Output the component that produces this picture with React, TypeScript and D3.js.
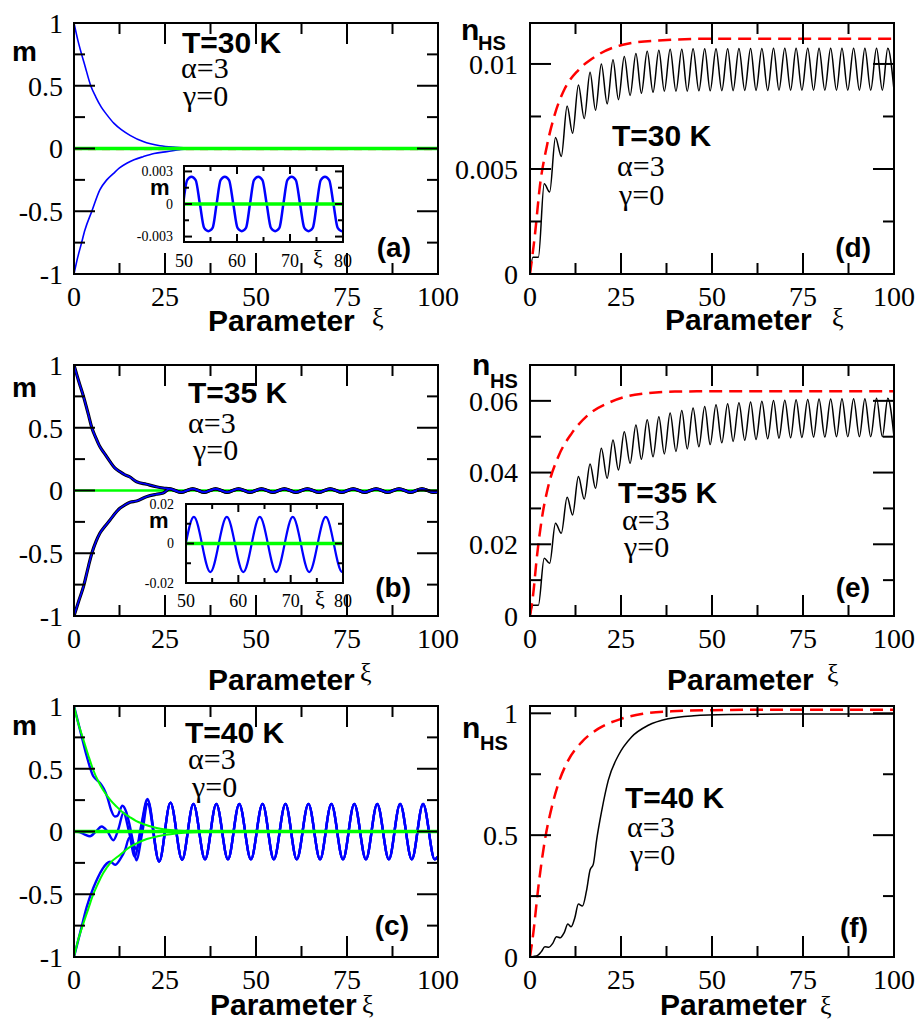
import { useEffect, useRef } from 'react';
import * as d3 from 'd3';

// ---------- values ----------
const xiMajor = [0, 25, 50, 75, 100];
const xiMinor = [12.5, 37.5, 62.5, 87.5];
const mMajor = [-1, -0.5, 0, 0.5, 1];
const mMinor = [-0.75, -0.25, 0.25, 0.75];
const zeroXi = [0, 100];
const zeroM = [0, 0];

// (a) T=30 K
const aUpXi = [0, 1, 2, 3, 4.6, 6, 7.5, 9, 11, 13, 15.4, 19, 23.6, 28, 34, 40, 100];
const aUpM = [1, 0.87, 0.76, 0.66, 0.5, 0.41, 0.33, 0.27, 0.2, 0.15, 0.105, 0.055, 0.022, 0.01, 0.003, 0, 0];
const aLoXi = [0, 1, 2, 3, 4.9, 7.1, 9, 10.8, 12.5, 14.5, 16.5, 19, 22, 25.5, 31, 38, 100];
const aLoM = [-1, -0.87, -0.76, -0.65, -0.5, -0.33, -0.25, -0.2, -0.155, -0.118, -0.09, -0.065, -0.04, -0.025, -0.004, 0, 0];
const aRedM = [-0.006, -0.006];
const aOscXi = [49.85, 50.6, 51.4, 52.2, 53.0, 53.8, 54.6, 55.4, 56.15, 56.9, 57.7, 58.5, 59.3, 60.1, 60.9, 61.7,
  62.45, 63.2, 64.0, 64.8, 65.6, 66.4, 67.2, 68.0, 68.75, 69.5, 70.3, 71.1, 71.9, 72.7, 73.5, 74.3,
  75.05, 75.8, 76.6, 77.4, 78.2, 79.0, 79.8, 80.6];
const aOscM = [0, 0.0022, 0.0025, 0.0022, 0, -0.0022, -0.0025, -0.0022, 0, 0.0022, 0.0025, 0.0022, 0, -0.0022, -0.0025, -0.0022,
  0, 0.0022, 0.0025, 0.0022, 0, -0.0022, -0.0025, -0.0022, 0, 0.0022, 0.0025, 0.0022, 0, -0.0022, -0.0025, -0.0022,
  0, 0.0022, 0.0025, 0.0022, 0, -0.0022, -0.0025, -0.0022];

// (b) T=35 K
const bUpXi = [0, 1.3, 2.6, 4.0, 4.9, 6.0, 7.1, 8.5, 9.9, 11.2, 12.6, 14.0, 15.2, 17.2, 19.9, 22.6, 24.5];
const bUpM = [1, 0.87, 0.75, 0.6, 0.5, 0.42, 0.35, 0.29, 0.23, 0.18, 0.15, 0.125, 0.11, 0.07, 0.05, 0.03, 0.02];
const bLoXi = [0, 1.3, 2.6, 4.0, 4.9, 6.0, 7.1, 8.5, 9.9, 11.2, 12.6, 14.0, 15.4, 17.2, 19.9, 22.6, 24.5];
const bLoM = [-1, -0.88, -0.766, -0.6, -0.5, -0.41, -0.341, -0.285, -0.235, -0.185, -0.142, -0.115, -0.094, -0.084, -0.049, -0.03, -0.02];
const bOscXi = [26.3, 29.45, 32.6, 35.75, 38.9, 42.05, 45.2, 48.35, 51.5, 54.65, 57.8, 60.95, 64.1, 67.25,
  70.4, 73.55, 76.7, 79.85, 83.0, 86.15, 89.3, 92.45, 95.6, 98.75, 100];
const bOscM = [0.0135, -0.0145, 0.0135, -0.0145, 0.0135, -0.0145, 0.0135, -0.0145, 0.0135, -0.0145, 0.0135, -0.0145,
  0.0135, -0.0145, 0.0135, -0.0145, 0.0135, -0.0145, 0.0135, -0.0145, 0.0135, -0.0145, 0.0135, -0.0145, -0.012];

// (c) T=40 K
const cGreenUpXi = [0, 1, 2.6, 4, 5.3, 6.5, 8, 10, 11.7, 13.5, 15.4, 17, 19, 22.7, 28, 35, 100];
const cGreenUpM = [1, 0.88, 0.73, 0.6, 0.49, 0.41, 0.33, 0.25, 0.198, 0.15, 0.113, 0.085, 0.06, 0.028, 0.008, 0.001, 0];
const cGreenLoXi = [0, 1, 2.6, 4, 5.3, 6.5, 8, 10, 12.6, 15, 17.2, 20, 23, 28, 35, 45, 100];
const cGreenLoM = [-1, -0.88, -0.73, -0.61, -0.5, -0.42, -0.333, -0.25, -0.187, -0.13, -0.094, -0.06, -0.038, -0.016, -0.004, 0, 0];
const cBlueUpXi = [0, 2, 3.5, 5.3, 6.3, 7.2, 8.2, 9.2, 10.2, 11.2, 11.9, 13.3, 14.3, 15.3, 16.4, 17.2, 18.2, 20.2];
const cBlueUpM = [1, 0.77, 0.6, 0.44, 0.41, 0.385, 0.34, 0.27, 0.17, 0.12, 0.125, 0.205, 0.16, 0.05, -0.1, -0.14, -0.02, 0.25];
const cBlueMidXi = [0, 1.5, 3, 4.4, 6, 7.6, 9.2, 10.8, 12.2, 13.6, 15.1, 16.7, 18.4, 20.2];
const cBlueMidM = [0, -0.005, -0.025, -0.038, 0, 0.04, 0, -0.07, 0.02, 0.15, 0, -0.2, 0.04, 0.26];
const cBlueLoXi = [0, 2, 3.5, 5.3, 6.5, 7.8, 9, 9.9, 11.3, 12.7, 14, 15.2, 16.2, 17.1, 18.8, 20.2];
const cBlueLoM = [-1, -0.77, -0.6, -0.45, -0.37, -0.3, -0.255, -0.24, -0.265, -0.22, -0.15, -0.05, -0.1, -0.23, 0, 0.22];
const cOscXi = [23.4, 26.5, 29.7, 32.8, 36.0, 39.1, 42.3, 45.4, 48.6, 51.8, 54.9, 58.1, 61.2, 64.4, 67.6,
  70.7, 73.9, 77.0, 80.2, 83.3, 86.5, 89.6, 92.8, 95.9, 99.1, 100];
const cOscM = [-0.24, 0.23, -0.225, 0.22, -0.222, 0.22, -0.222, 0.22, -0.222, 0.22, -0.222, 0.22, -0.222, 0.22,
  -0.222, 0.22, -0.222, 0.22, -0.222, 0.22, -0.222, 0.22, -0.222, 0.22, -0.222, -0.2];

// (d), (e) share the oscillation timing
const nStartXi = [0, 0.8, 2.3];
const nPeakXi = [3.9, 7.0, 10.2, 13.3, 16.5, 19.6, 22.8, 25.9, 29.1, 32.2, 35.4, 38.5, 41.7, 44.8, 48.0, 51.1,
  54.3, 57.4, 60.6, 63.7, 66.9, 70.0, 73.1, 76.3, 79.4, 82.6, 85.7, 88.9, 92.0, 95.2, 98.3];
const nTroughXi = [5.4, 8.6, 11.7, 14.9, 18.0, 21.2, 24.3, 27.5, 30.6, 33.8, 36.9, 40.1, 43.2, 46.4, 49.5, 52.7,
  55.8, 59.0, 62.1, 65.3, 68.4, 71.6, 74.7, 77.9, 81.0, 84.2, 87.3, 90.5, 93.6, 96.8, 100];

// (d) T=30 K
const dStart = [0, 0.0008, 0.0008];
const dPeak = [0.0043, 0.0065, 0.008, 0.009, 0.0096, 0.01, 0.0102, 0.01035, 0.0105, 0.0106, 0.01065, 0.0107, 0.0107,
  0.01072, 0.01072, 0.01073, 0.01073, 0.01074, 0.01074, 0.01074, 0.01075, 0.01075, 0.01075, 0.01075, 0.01075,
  0.01075, 0.01075, 0.01075, 0.01075, 0.01075, 0.01075];
const dTrough = [0.0039, 0.0056, 0.0067, 0.0074, 0.0078, 0.0081, 0.0083, 0.0085, 0.0086, 0.00865, 0.0087, 0.0087,
  0.0087, 0.00872, 0.00872, 0.00873, 0.00873, 0.00874, 0.00874, 0.00874, 0.00875, 0.00875, 0.00875, 0.00875,
  0.00875, 0.00875, 0.00875, 0.00875, 0.00875, 0.00875, 0.00875];
const dRedXi = [0, 1.4, 2.7, 4.6, 6.9, 9.6, 13.3, 17.9, 25.2, 35.3, 50, 100];
const dRedN = [0, 0.00194, 0.00416, 0.00606, 0.00765, 0.00884, 0.00971, 0.01035, 0.0109, 0.01112, 0.0112, 0.0112];

// (e) T=35 K
const eStart = [0, 0.003, 0.003];
const ePeak = [0.0161, 0.0259, 0.0331, 0.0389, 0.0424, 0.0468, 0.0491, 0.0514, 0.0533, 0.0547, 0.0556, 0.0566,
  0.0573, 0.058, 0.0584, 0.0589, 0.0592, 0.0595, 0.0597, 0.0599, 0.0601, 0.0602, 0.0603, 0.0604, 0.0605, 0.0605,
  0.0606, 0.0606, 0.0606, 0.0607, 0.0607];
const eTrough = [0.0147, 0.0231, 0.0282, 0.0326, 0.0356, 0.0384, 0.0407, 0.0426, 0.0437, 0.0444, 0.0452, 0.0459,
  0.0466, 0.0472, 0.0478, 0.0483, 0.0487, 0.049, 0.0492, 0.0494, 0.0496, 0.0497, 0.0498, 0.0499, 0.0499, 0.05,
  0.05, 0.05, 0.05, 0.05, 0.05];
const eRedXi = [0, 0.9, 1.8, 3.2, 5.0, 7.8, 11.5, 16, 21.5, 28.8, 39.8, 60, 100];
const eRedN = [0, 0.0063, 0.0156, 0.0268, 0.0361, 0.0445, 0.051, 0.0561, 0.0594, 0.0617, 0.0626, 0.0627, 0.0627];

// (f) T=40 K
const fBlackXi = [0, 1, 2.2, 3.1, 4.1, 5.2, 6.2, 7.3, 8.3, 9.4, 10.4, 11.3, 12.3, 13.3, 14.4, 15.5, 16.5, 17.4,
  18.3, 19.7, 21.5, 24.3, 27.9, 32.5, 38, 45, 55, 70, 100];
const fBlackN = [0, 0.002, 0.008, 0.022, 0.042, 0.04, 0.055, 0.083, 0.079, 0.1, 0.135, 0.124, 0.16, 0.217, 0.209,
  0.27, 0.357, 0.381, 0.48, 0.6, 0.725, 0.828, 0.903, 0.951, 0.978, 0.99, 0.995, 0.997, 0.997];
const fRedXi = [0, 0.9, 2.3, 4.1, 6.0, 7.8, 10.5, 14.2, 18.8, 25.2, 31, 38.9, 50, 70, 100];
const fRedN = [0, 0.097, 0.288, 0.48, 0.616, 0.712, 0.807, 0.882, 0.937, 0.978, 0.998, 1.008, 1.013, 1.015, 1.015];

// ---------- drawing helpers ----------
const sans = 'Liberation Sans, Arial, Helvetica, sans-serif';
const serif = 'Liberation Serif, Times New Roman, DejaVu Serif, serif';
const BLUE = '#0000ff';
const GREEN = '#00ff00';
const RED = '#ff0000';

type Pt = [number, number];
const zip = (xs: number[], ys: number[]): Pt[] => xs.map((v, i) => [v, ys[i]] as Pt);
const alternate = (px: number[], pv: number[], tx: number[], tv: number[]): Pt[] =>
  px.flatMap((v, i) => [[v, pv[i]], [tx[i], tv[i]]] as Pt[]);

const makePanel = (svg: any, id: string, box: number[], xDom: number[], yDom: number[], bg = false) => {
  const x = d3.scaleLinear().domain(xDom).range([box[0], box[2]]);
  const y = d3.scaleLinear().domain(yDom).range([box[3], box[1]]);
  svg.append('clipPath').attr('id', id).append('rect')
    .attr('x', box[0]).attr('y', box[1]).attr('width', box[2] - box[0]).attr('height', box[3] - box[1]);
  const g = svg.append('g');
  if (bg) {
    g.append('rect').attr('x', box[0]).attr('y', box[1])
      .attr('width', box[2] - box[0]).attr('height', box[3] - box[1]).attr('fill', '#fff');
  }
  const data = g.append('g').attr('clip-path', `url(#${id})`);
  return { x, y, g, data };
};

const drawLine = (p: any, pts: Pt[], color: string, width: number, dash: string | null = null, opacity = 1) => {
  const gen = d3.line<Pt>().x((d) => p.x(d[0])).y((d) => p.y(d[1])).curve(d3.curveMonotoneX);
  p.data.append('path').attr('d', gen(pts)).attr('fill', 'none').attr('stroke', color)
    .attr('stroke-width', width).attr('stroke-dasharray', dash).attr('stroke-linejoin', 'round')
    .attr('opacity', opacity);
};

const drawAxes = (p: any, xMaj: number[], xMin: number[], yMaj: number[], yMin: number[],
  majLen: number, minLen: number, sw: number) => {
  const [x0, x1] = p.x.range();
  const [yb, yt] = p.y.range();
  const t = p.g.append('g').attr('stroke', '#000').attr('stroke-width', sw);
  const seg = (a: number, b: number, c: number, d: number) =>
    t.append('line').attr('x1', a).attr('y1', b).attr('x2', c).attr('y2', d);
  const xt = (vals: number[], len: number) => vals.forEach((v) => {
    seg(p.x(v), yb, p.x(v), yb - len);
    seg(p.x(v), yt, p.x(v), yt + len);
  });
  const yt2 = (vals: number[], len: number) => vals.forEach((v) => {
    seg(x0, p.y(v), x0 + len, p.y(v));
    seg(x1, p.y(v), x1 - len, p.y(v));
  });
  xt(xMaj, majLen); xt(xMin, minLen); yt2(yMaj, majLen); yt2(yMin, minLen);
  p.g.append('rect').attr('x', x0).attr('y', yt).attr('width', x1 - x0).attr('height', yb - yt)
    .attr('fill', 'none').attr('stroke', '#000').attr('stroke-width', sw);
};

const text = (g: any, x: number, y: number, s: string, size: number, family: string,
  weight = 'normal', anchor = 'start', dy: string | null = null) => {
  g.append('text').attr('x', x).attr('y', y).attr('dy', dy)
    .style('font-family', family).style('font-size', `${size}px`).style('font-weight', weight)
    .attr('text-anchor', anchor).text(s);
};

const xLabels = (p: any, vals: number[], base: number, size: number) =>
  vals.forEach((v) => text(p.g, p.x(v), base, String(v), size, serif, 'normal', 'middle'));
const yLabels = (p: any, vals: number[], right: number, size: number) =>
  vals.forEach((v) => text(p.g, right, p.y(v), String(v), size, serif, 'normal', 'end', '0.35em'));

const notes = (g: any, temp: string, x: number[], base: number[]) => {
  text(g, x[0], base[0], temp, 30, sans, 'bold');
  text(g, x[1], base[1], 'α=3', 30, serif);
  text(g, x[2], base[2], 'γ=0', 30, serif);
};

const render = (el: SVGSVGElement) => {
  const svg = d3.select(el);
  svg.selectAll('*').remove();
  const L = [74, 438];
  const R = [530, 894];
  const rows = [[23, 274], [365, 616], [706, 957]];

  // ---------- (a) ----------
  const pa = makePanel(svg, 'clipA', [L[0], rows[0][0], L[1], rows[0][1]], [0, 100], [-1, 1]);
  drawLine(pa, zip(zeroXi, aRedM), RED, 2, '8 6', 0.5);
  drawLine(pa, zip(zeroXi, zeroM), '#000', 1.5);
  drawLine(pa, zip(aUpXi, aUpM), BLUE, 1.6);
  drawLine(pa, zip(aLoXi, aLoM), BLUE, 1.6);
  drawLine(pa, zip(zeroXi, zeroM), GREEN, 3.5);
  drawAxes(pa, xiMajor, xiMinor, mMajor, mMinor, 21, 11, 2);
  xLabels(pa, xiMajor, rows[0][1] + 32, 28);
  yLabels(pa, mMajor, 63, 28);

  const ia = makePanel(svg, 'clipIA', [184, 166, 343, 242], [50, 80], [-0.0035, 0.0035], true);
  drawLine(ia, zip(aOscXi, aOscM), BLUE, 2.5);
  drawLine(ia, zip(zeroXi, zeroM), GREEN, 3.5);
  drawAxes(ia, [50, 60, 70, 80], [55, 65, 75], [-0.003, 0, 0.003], [-0.0015, 0.0015], 8, 5, 2);
  xLabels(ia, [50, 60, 70, 80], 267, 18);
  yLabels(ia, [-0.003, 0, 0.003], 173, 14);
  text(svg, 313, 265, 'ξ', 22, serif);
  text(svg, 150, 195, 'm', 22, sans, 'bold');

  // ---------- (b) ----------
  const pb = makePanel(svg, 'clipB', [L[0], rows[1][0], L[1], rows[1][1]], [0, 100], [-1, 1]);
  const bUpper = [...zip(bUpXi, bUpM), ...zip(bOscXi, bOscM)];
  const bLower = [...zip(bLoXi, bLoM), ...zip(bOscXi, bOscM)];
  drawLine(pb, zip(zeroXi, zeroM), GREEN, 2.5);
  drawLine(pb, bUpper, '#000', 3.2);
  drawLine(pb, bLower, '#000', 3.2);
  drawLine(pb, bUpper, BLUE, 1.6);
  drawLine(pb, bLower, BLUE, 1.6);
  drawAxes(pb, xiMajor, xiMinor, mMajor, mMinor, 21, 11, 2);
  xLabels(pb, xiMajor, rows[1][1] + 32, 28);
  yLabels(pb, mMajor, 63, 28);

  const ib = makePanel(svg, 'clipIB', [186, 504, 343, 583], [50, 80], [-0.02, 0.02], true);
  drawLine(ib, zip(bOscXi, bOscM), BLUE, 2.2);
  drawLine(ib, zip(zeroXi, zeroM), GREEN, 3.5);
  drawAxes(ib, [50, 60, 70, 80], [55, 65, 75], [-0.02, 0, 0.02], [-0.01, 0.01], 8, 5, 2);
  xLabels(ib, [50, 60, 70, 80], 607, 18);
  yLabels(ib, [-0.02, 0, 0.02], 174, 14);
  text(svg, 315, 606, 'ξ', 22, serif);
  text(svg, 149, 528, 'm', 22, sans, 'bold');

  // ---------- (c) ----------
  const pc = makePanel(svg, 'clipC', [L[0], rows[2][0], L[1], rows[2][1]], [0, 100], [-1, 1]);
  const osc = zip(cOscXi, cOscM);
  drawLine(pc, [...zip(cBlueUpXi, cBlueUpM), ...osc], BLUE, 2.4);
  drawLine(pc, [...zip(cBlueMidXi, cBlueMidM), ...osc], BLUE, 2.4);
  drawLine(pc, [...zip(cBlueLoXi, cBlueLoM), ...osc], BLUE, 2.4);
  drawLine(pc, zip(zeroXi, zeroM), '#000', 1.5);
  drawLine(pc, zip(cGreenUpXi, cGreenUpM), GREEN, 2);
  drawLine(pc, zip(cGreenLoXi, cGreenLoM), GREEN, 2);
  drawLine(pc, zip(zeroXi, zeroM), GREEN, 3.5);
  drawAxes(pc, xiMajor, xiMinor, mMajor, mMinor, 21, 11, 2);
  xLabels(pc, xiMajor, rows[2][1] + 32, 28);
  yLabels(pc, mMajor, 63, 28);

  // ---------- (d) ----------
  const pd = makePanel(svg, 'clipD', [R[0], rows[0][0], R[1], rows[0][1]], [0, 100], [0, 0.01195]);
  drawLine(pd, [...zip(nStartXi, dStart), ...alternate(nPeakXi, dPeak, nTroughXi, dTrough)], '#000', 1.5);
  drawLine(pd, zip(dRedXi, dRedN), RED, 2.5, '13 7');
  drawAxes(pd, xiMajor, xiMinor, [0, 0.005, 0.01], [0.0025, 0.0075], 21, 11, 2);
  xLabels(pd, xiMajor, rows[0][1] + 32, 28);
  yLabels(pd, [0, 0.005, 0.01], 518, 28);

  // ---------- (e) ----------
  const pe = makePanel(svg, 'clipE', [R[0], rows[1][0], R[1], rows[1][1]], [0, 100], [0, 0.07]);
  drawLine(pe, [...zip(nStartXi, eStart), ...alternate(nPeakXi, ePeak, nTroughXi, eTrough)], '#000', 1.5);
  drawLine(pe, zip(eRedXi, eRedN), RED, 2.5, '13 7');
  drawAxes(pe, xiMajor, xiMinor, [0, 0.02, 0.04, 0.06], [0.01, 0.03, 0.05], 21, 11, 2);
  xLabels(pe, xiMajor, rows[1][1] + 32, 28);
  yLabels(pe, [0, 0.02, 0.04, 0.06], 518, 28);

  // ---------- (f) ----------
  const pf = makePanel(svg, 'clipF', [R[0], rows[2][0], R[1], rows[2][1]], [0, 100], [0, 1.03]);
  drawLine(pf, zip(fBlackXi, fBlackN), '#000', 1.5);
  drawLine(pf, zip(fRedXi, fRedN), RED, 2.5, '13 7');
  drawAxes(pf, xiMajor, xiMinor, [0, 0.5, 1], [0.25, 0.75], 21, 11, 2);
  xLabels(pf, xiMajor, rows[2][1] + 32, 28);
  yLabels(pf, [0, 0.5, 1], 518, 28);

  // ---------- titles & annotations ----------
  const t = svg.append('g');
  [61, 397, 735].forEach((b) => text(t, 12, b, 'm', 28, sans, 'bold'));
  [[461, 40, 478, 50], [472, 375, 490, 388], [462, 738, 480, 750]].forEach(([nx, nb, sx, sb]) => {
    text(t, nx, nb, 'n', 30, sans, 'bold');
    text(t, sx, sb, 'HS', 20, sans, 'bold');
  });
  [[208, 331, 372, 326], [208, 690, 360, 681], [210, 1015, 362, 1013],
    [665, 330, 832, 326], [667, 690, 827, 682], [660, 1015, 820, 1014]].forEach(([px, pb2, xx, xb]) => {
    text(t, px, pb2, 'Parameter', 30, sans, 'bold');
    text(t, xx, xb, 'ξ', 26, serif);
  });
  notes(t, 'T=30 K', [182, 181, 183], [53, 78, 106]);
  notes(t, 'T=35 K', [188, 188, 193], [403, 433, 460]);
  notes(t, 'T=40 K', [185, 188, 192], [743, 769, 797]);
  notes(t, 'T=30 K', [612, 617, 619], [146, 176, 205]);
  notes(t, 'T=35 K', [618, 622, 624], [503, 530, 557]);
  notes(t, 'T=40 K', [625, 627, 630], [808, 837, 865]);
  [['(a)', 411, 257], ['(b)', 411, 597], ['(c)', 409, 935],
    ['(d)', 871, 257], ['(e)', 870, 597], ['(f)', 868, 937]].forEach(([s, x, b]) =>
    text(t, x as number, b as number, s as string, 28, sans, 'bold', 'end'));
};

export default function App() {
  const ref = useRef<SVGSVGElement>(null);
  useEffect(() => {
    if (ref.current) render(ref.current);
  }, []);
  return (
    <svg ref={ref} width={921} height={1021}
      style={{ position: 'absolute', left: 0, top: 0, background: '#fff' }} />
  );
}
